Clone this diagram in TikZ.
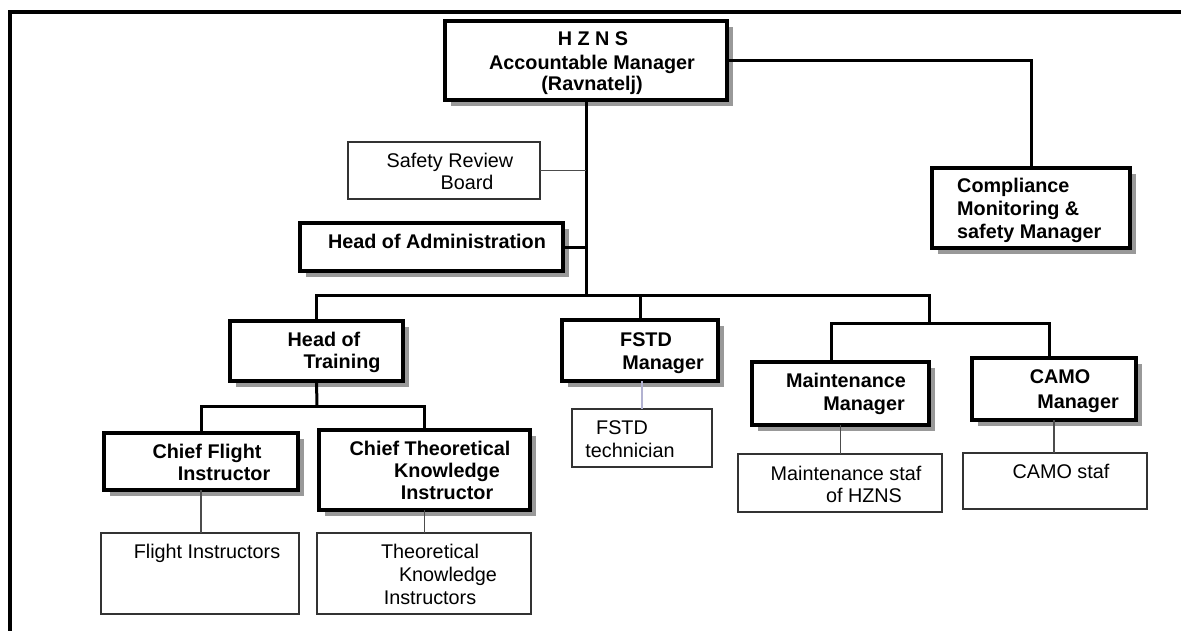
\documentclass[tikz,border=0pt]{standalone}
\usepackage{fontspec}
\setmainfont{Liberation Sans}
\usetikzlibrary{shadows}
\begin{document}
\begin{tikzpicture}[x=1pt,y=-1pt,
  bigbox/.style={draw=black, line width=4.5pt, fill=white, inner sep=0pt, outer sep=0pt,
    drop shadow={shadow xshift=6pt, shadow yshift=-6pt, fill=black!40, opacity=1}},
  smallbox/.style={draw=black!80, line width=1.3pt, fill=white, inner sep=0pt, outer sep=0pt},
  conn/.style={line width=3pt, draw=black},
  thinconn/.style={line width=1.2pt, draw=black!70},
  blueconn/.style={line width=1.2pt, draw=blue!40!black!30!white},
  bt/.style={font=\fontsize{19.8pt}{22.5pt}\selectfont\bfseries, inner sep=0pt, anchor=base},
  btl/.style={bt, anchor=base west},
  rt/.style={font=\fontsize{19.8pt}{22.5pt}\selectfont, inner sep=0pt, anchor=base}]
\useasboundingbox (0,0) rectangle (1181,630);
% outer frame
\draw[line width=4pt] (10,640) -- (10,12) -- (1190,12);

% boxes
\node[bigbox, minimum width=282pt, minimum height=79pt] (hzns) at (586,60.5) {};
\node[bigbox, minimum width=198pt, minimum height=80pt] (comp) at (1031,208) {};
\node[smallbox, minimum width=192pt, minimum height=57pt] (srb) at (444,170.5) {};
\node[bigbox, minimum width=263pt, minimum height=48pt] (admin) at (431.5,247) {};
\node[bigbox, minimum width=173pt, minimum height=60pt] (train) at (316.5,351) {};
\node[bigbox, minimum width=156pt, minimum height=61pt] (fstd) at (640,350.5) {};
\node[bigbox, minimum width=177pt, minimum height=63pt] (maint) at (840.5,393.5) {};
\node[bigbox, minimum width=164pt, minimum height=62pt] (camo) at (1054,389) {};
\node[bigbox, minimum width=194pt, minimum height=57pt] (cfi) at (201,461.5) {};
\node[bigbox, minimum width=211pt, minimum height=80pt] (ctki) at (424.5,470) {};
\node[smallbox, minimum width=198pt, minimum height=81pt] (fi) at (200,573.5) {};
\node[smallbox, minimum width=214pt, minimum height=81pt] (tki) at (424,573.5) {};
\node[smallbox, minimum width=140pt, minimum height=58pt] (tech) at (642,438) {};
\node[smallbox, minimum width=204pt, minimum height=58pt] (mstaff) at (840,483) {};
\node[smallbox, minimum width=184pt, minimum height=56pt] (cstaff) at (1055,481) {};

% junction coordinates
\coordinate (bus) at (586,295);
\coordinate (busR) at (929,295);
\coordinate (mbC) at (929,323);
\coordinate (mbL) at (831,323);
\coordinate (mbR) at (1049,323);
\coordinate (tb) at (317,406);

% connectors
\draw[conn] (hzns.east) -| (comp.north);
\draw[conn] (hzns.south) -- (bus);
\draw[thinconn] (srb.east) -- (srb.east -| bus);
\draw[conn] (admin.east) -- (admin.east -| bus);
\draw[conn] (train.north) |- (busR) -- (mbC);
\draw[conn] (fstd.north) -- (fstd.north |- bus);
\draw[conn] (mbL |- maint.north) -- (mbL) -- (mbR) -- (mbR |- camo.north);
\draw[conn] (train.south) -- (tb);
\draw[conn] (cfi.north) |- (tb) -| (ctki.north);
\draw[thinconn] (cfi.south) -- (cfi.south |- fi.north);
\draw[thinconn] (ctki.south) -- (ctki.south |- tki.north);
\draw[blueconn] (tech.north |- fstd.south) -- (tech.north);
\draw[thinconn] (maint.south) -- (maint.south |- mstaff.north);
\draw[thinconn] (camo.south) -- (camo.south |- cstaff.north);

% texts
\node[bt] (h1) at (593,45) {H Z N S};
\node[bt] (h2) at (592,69) {Accountable Manager};
\node[bt] (h3) at (592,90) {(Ravnatelj)};
\node[btl] (c1) at (957,192) {Compliance};
\node[btl] (c2) at (957,215) {Monitoring \&};
\node[btl] (c3) at (957,238) {safety Manager};
\node[rt] (s1) at (450,167) {Safety Review};
\node[rt] (s2) at (467,189) {Board};
\node[bt] (a1) at (437,248) {Head of Administration};
\node[bt] (tr1) at (324,346) {Head of};
\node[bt] (tr2) at (342,368) {Training};
\node[bt] (f1) at (646,346) {FSTD};
\node[bt] (f2) at (663,369) {Manager};
\node[bt] (m1) at (846,387) {Maintenance};
\node[bt] (m2) at (864,410) {Manager};
\node[bt] (k1) at (1060,383) {CAMO};
\node[bt] (k2) at (1078,408) {Manager};
\node[bt] (cf1) at (207,458) {Chief Flight};
\node[bt] (cf2) at (224,480) {Instructor};
\node[bt] (ct1) at (430,455) {Chief Theoretical};
\node[bt] (ct2) at (447,477) {Knowledge};
\node[bt] (ct3) at (447,499) {Instructor};
\node[rt] (fi1) at (207,558) {Flight Instructors};
\node[rt] (tk1) at (430,558) {Theoretical};
\node[rt] (tk2) at (448,581) {Knowledge};
\node[rt] (tk3) at (430,604) {Instructors};
\node[rt] (te1) at (622,434) {FSTD};
\node[rt] (te2) at (630,457) {technician};
\node[rt] (ms1) at (846,480) {Maintenance staf};
\node[rt] (ms2) at (864,502) {of HZNS};
\node[rt] (cs1) at (1061,478) {CAMO staf};
\end{tikzpicture}
\end{document}
